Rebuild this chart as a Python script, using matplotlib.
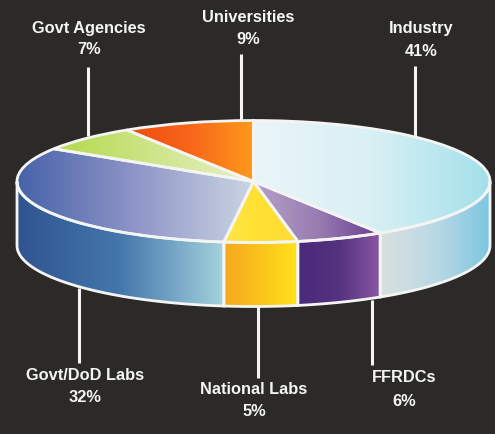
import numpy as np
import matplotlib
matplotlib.use("Agg")
import matplotlib.pyplot as plt
from matplotlib.colors import LinearSegmentedColormap
from matplotlib.patches import Polygon

categories = ["Industry", "FFRDCs", "National Labs", "Govt/DoD Labs", "Govt Agencies", "Universities"]
shares = [41, 6, 5, 32, 7, 9]

top_colors = [
    ["#eaf5f9", "#d9f0f5", "#a3e0ea"],
    ["#b5a2c8", "#9a7db3", "#6a3f8f"],
    ["#ffe64a", "#ffe030", "#ffdc3c"],
    ["#4662a9", "#8f95c8", "#cbd6e2"],
    ["#b2da4c", "#cfe58a", "#e8f0c8"],
    ["#ee4a12", "#f8661a", "#ff9a1c"],
]
side_colors = [
    ["#d8e0e0", "#bcd9e4", "#7cc6e2"],
    ["#4a2a7a", "#55327f", "#8b58a3"],
    ["#f6a81e", "#fcc41c", "#ffe41c"],
    ["#2f5490", "#4477ac", "#a4d2de"],
]
label_pos = {
    "Industry": (421, 29, 51),
    "FFRDCs": (404, 378, 401),
    "National Labs": (254, 390, 412),
    "Govt/DoD Labs": (85, 376, 398),
    "Govt Agencies": (89, 28, 50),
    "Universities": (248, 18, 39),
}
leaders = {
    "Industry": (415, 66, 136),
    "FFRDCs": (372, 300, 365),
    "National Labs": (258, 306, 378),
    "Govt/DoD Labs": (79, 288, 363),
    "Govt Agencies": (88, 67, 136),
    "Universities": (241, 54, 122),
}

W, H = 495, 434
CX, CY, RX, RY, DEPTH = 253.5, 181.5, 236.5, 61, 64
BG = "#2b2a28"
WHITE = "#f4f4f2"

fig = plt.figure(figsize=(W / 100, H / 100), dpi=100, facecolor=BG)
ax = fig.add_axes([0, 0, 1, 1])

wedges, _ = ax.pie(shares, startangle=90, counterclock=False, radius=1,
                   wedgeprops=dict(facecolor="none", edgecolor=WHITE, linewidth=2.0, zorder=5))
ax.set_aspect("auto")
xlim = (-CX / RX, (W - CX) / RX)
ylim = (-(H - CY) / RY, CY / RY)
depth = DEPTH / RY


def fill_gradient(patch, x0, x1, colors, y0, y1):
    cmap = LinearSegmentedColormap.from_list("g", colors)
    grad = np.linspace(0, 1, 256)[None, :]
    im = ax.imshow(grad, cmap=cmap, extent=(x0, x1, y0, y1), aspect="auto", zorder=2,
                   interpolation="bilinear")
    im.set_clip_path(patch)


for i, w in enumerate(wedges):
    t = np.radians(np.linspace(w.theta1, w.theta2, 200))
    xs = np.r_[0, np.cos(t)]
    fill_gradient(w, xs.min(), xs.max(), top_colors[i], -1.1, 1.1)

    lo, hi = max(w.theta1, -180), min(w.theta2, 0)
    if hi > lo:
        a = np.radians(np.linspace(lo, hi, 200))
        x, y = np.cos(a), np.sin(a)
        pts = np.r_[np.c_[x, y], np.c_[x[::-1], y[::-1] - depth]]
        back = Polygon(pts, closed=True, facecolor="none", edgecolor=WHITE, linewidth=2.0, zorder=4)
        ax.add_patch(back)
        fill_gradient(back, x.min(), x.max(), side_colors[i], -1 - depth - 0.1, 0.1)

for name in categories:
    lx, y0, y1 = leaders[name]
    px = (lx - CX) / RX
    ax.plot([px, px], [(CY - y0) / RY, (CY - y1) / RY], color=WHITE, lw=2.2,
            solid_capstyle="butt", zorder=1)
    tx, ty1, ty2 = label_pos[name]
    share = shares[categories.index(name)]
    ax.text((tx - CX) / RX, (CY - ty1) / RY, name, color=WHITE, ha="center", va="center",
            fontsize=11.8, fontweight="bold", family="Liberation Sans")
    ax.text((tx - CX) / RX, (CY - ty2) / RY, f"{share}%", color=WHITE, ha="center", va="center",
            fontsize=11.8, fontweight="bold", family="Liberation Sans")

ax.set_xlim(xlim)
ax.set_ylim(ylim)
ax.axis("off")
fig.savefig("out.png", dpi=100, facecolor=BG)
